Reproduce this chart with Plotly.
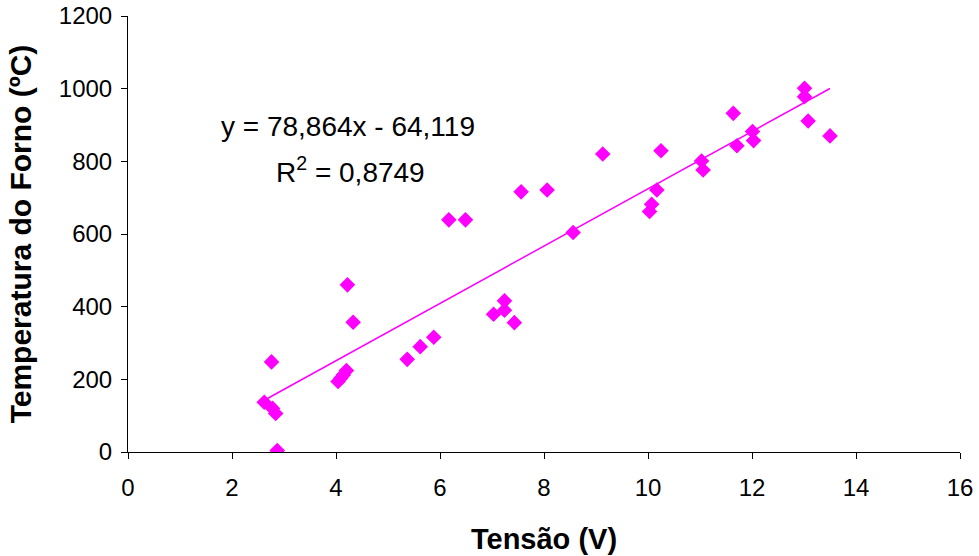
import plotly.graph_objects as go

tensao = [2.62, 2.76, 2.78, 2.84, 2.87, 4.22, 4.33, 4.04, 4.09, 4.14, 4.20,
          5.37, 5.62, 5.88, 6.17, 6.49, 7.56, 8.06, 8.56, 7.03, 7.24, 7.24, 7.43,
          9.13, 10.03, 10.07, 10.17, 10.25, 11.03, 11.06, 11.64, 11.71, 12.01,
          12.03, 13.01, 13.01, 13.08, 13.50]
temperatura = [137, 248, 120, 106, 4, 460, 357, 194, 203, 212, 224,
               255, 290, 316, 639, 639, 716, 721, 604, 379, 416, 390, 356,
               820, 662, 682, 721, 829, 801, 776, 932, 843, 882,
               857, 1001, 978, 911, 870]

slope = 78.864
intercept = -64.119
eq_text = "y = 78,864x - 64,119"
r2_text = "R<sup>2</sup> = 0,8749"

x_ticks = [0, 2, 4, 6, 8, 10, 12, 14, 16]
y_ticks = [0, 200, 400, 600, 800, 1000, 1200]

MAG = "#FF00FF"
FONT = "Liberation Sans, Arial, sans-serif"

xmin, xmax = min(tensao), max(tensao)

L, R, T, B = 128, 19, 16, 104
W, H = 979, 556
pw, ph = W - L - R, H - T - B


def px(xp):
    return (xp - L) / pw


def py(yp):
    return 1 - (yp - T) / ph


fig = go.Figure()
fig.add_trace(go.Scatter(
    x=tensao, y=temperatura, mode="markers",
    marker=dict(symbol="diamond", size=12, color=MAG, line=dict(width=0)),
    showlegend=False,
))
fig.add_trace(go.Scatter(
    x=[xmin, xmax], y=[slope * xmin + intercept, slope * xmax + intercept],
    mode="lines", line=dict(color=MAG, width=1.5), showlegend=False,
))

fig.add_annotation(x=px(347.5), y=py(127), xref="paper", yref="paper", text=eq_text,
                   xanchor="center", yanchor="middle",
                   showarrow=False, font=dict(family=FONT, size=28, color="black"))
fig.add_annotation(x=px(350), y=py(170), xref="paper", yref="paper", text=r2_text,
                   xanchor="center", yanchor="middle",
                   showarrow=False, font=dict(family=FONT, size=28, color="black"))

fig.update_layout(
    width=W, height=H,
    margin=dict(l=L, r=R, t=T, b=B, autoexpand=False),
    paper_bgcolor="white", plot_bgcolor="white",
    font=dict(family=FONT, color="black"),
    xaxis=dict(
        range=[0, 16], tickvals=x_ticks, ticktext=[str(v) for v in x_ticks],
        showgrid=False, zeroline=False, showline=True, linecolor="black", linewidth=1,
        ticks="outside", ticklen=6, tickcolor="black", tickfont=dict(size=24, family=FONT),
        ticklabelstandoff=8,
        title=dict(text="<b>Tensão (V)</b>", font=dict(size=29, family=FONT), standoff=28),
    ),
    yaxis=dict(
        range=[0, 1200], tickvals=y_ticks, ticktext=[str(v) for v in y_ticks],
        showgrid=False, zeroline=False, showline=True, linecolor="black", linewidth=1,
        ticks="outside", ticklen=6, tickcolor="black", tickfont=dict(size=24, family=FONT),
        ticklabelstandoff=4,
        title=dict(text="<b>Temperatura do Forno (ºC)</b>", font=dict(size=30, family=FONT), standoff=18),
    ),
)

fig.write_html("out.html")
